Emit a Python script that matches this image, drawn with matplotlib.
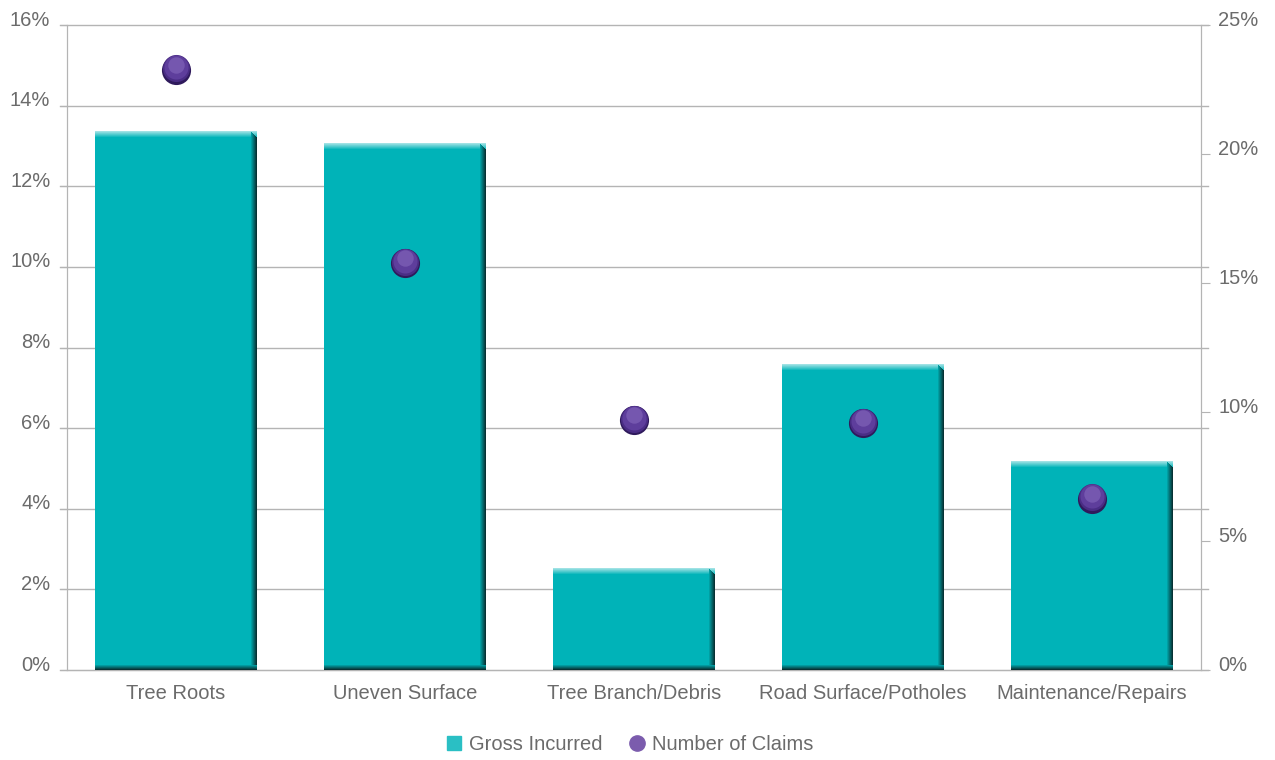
import matplotlib
matplotlib.use("Agg")
import matplotlib.pyplot as plt
import matplotlib.transforms as mtransforms
from matplotlib.patches import Rectangle
from matplotlib.colors import to_rgb

categories = ["Tree Roots", "Uneven Surface", "Tree Branch/Debris",
              "Road Surface/Potholes", "Maintenance/Repairs"]
gross_incurred = [13.37, 13.07, 2.53, 7.59, 5.19]    # left axis, %
number_of_claims = [23.26, 15.77, 9.69, 9.57, 6.63]  # right axis, %
left_ticks = [0, 2, 4, 6, 8, 10, 12, 14, 16]
right_ticks = [0, 5, 10, 15, 20, 25]

plt.rcParams['font.family'] = ['Liberation Sans', 'DejaVu Sans']
txt = '#6b6b6b'
grid = '#b4b4b4'
teal = '#00b3b8'

fig = plt.figure(figsize=(12.75, 7.6), dpi=100)
ax = fig.add_axes([0.0525, 0.1184, 0.8895, 0.8487])
ax2 = ax.twinx()

ax.set_xlim(-0.476, 4.476)
ax.set_ylim(0, 16)
ax2.set_ylim(0, 25)

x = list(range(len(categories)))
bars = ax.bar(x, gross_incurred, width=0.707, color=teal, zorder=3)


def mix(c1, c2, f):
    a, b = to_rgb(c1), to_rgb(c2)
    return tuple(a[i] + (b[i] - a[i]) * f for i in range(3))


# bevel: light top edge, dark right and bottom edges (pixel sizes -> data units)
px_x = 4.952 / 1134
px_y = 16 / 645
n = 6
for b in bars:
    bx, by, bw, bh = b.get_x(), b.get_y(), b.get_width(), b.get_height()
    for i in range(n):
        f = 1 - i / n
        ax.add_patch(Rectangle((bx, by + bh - (i + 1) * px_y), bw, px_y,
                               color=mix(teal, '#9fe2e4', f), zorder=4, lw=0))
    for i in range(n):
        f = 1 - i / n
        ax.add_patch(Rectangle((bx + bw - (i + 1) * px_x, by), px_x, bh - px_y * (n - i),
                               color=mix(teal, '#073234', f), zorder=5, lw=0))
    for i in range(5):
        f = 1 - i / 5
        ax.add_patch(Rectangle((bx, by + i * px_y), bw, px_y,
                               color=mix(teal, '#073234', f), zorder=5, lw=0))

ax.set_yticks(left_ticks)
ax.set_yticklabels([f"{t}%" for t in left_ticks])
ax.set_xticks(x)
ax.set_xticklabels(categories)

for t in left_ticks:
    ax.axhline(t, xmin=-0.006, xmax=1.006, color=grid, lw=1, zorder=1, clip_on=False)

ax2.set_yticks(right_ticks)
ax2.set_yticklabels([f"{t}%" for t in right_ticks])

# dots with simple shading
up = lambda d: ax2.transData + mtransforms.ScaledTranslation(0, d / 100, fig.dpi_scale_trans)
ax2.scatter(x, number_of_claims, s=440, color='#2f1a5c', zorder=6, lw=0)
ax2.scatter(x, number_of_claims, s=380, color='#4a2d85', zorder=7, lw=0, transform=up(1.5))
ax2.scatter(x, number_of_claims, s=300, color='#5e3e9c', zorder=8, lw=0, transform=up(2.5))
ax2.scatter(x, number_of_claims, s=140, color='#7f62b8', zorder=9, lw=0, alpha=0.7, transform=up(5))

for a in (ax, ax2):
    a.spines['top'].set_visible(False)
    for s in ('left', 'right', 'bottom'):
        a.spines[s].set_color(grid)
ax2.spines['bottom'].set_visible(False)

ax.tick_params(axis='y', length=5, color=grid, labelcolor=txt, labelsize=14.5, pad=7)
ax.tick_params(axis='x', length=0, labelcolor=txt, labelsize=14.5, pad=10)
ax2.tick_params(axis='y', length=6.5, color=grid, labelcolor=txt, labelsize=14.5, pad=6)

shift = mtransforms.ScaledTranslation(0, 7 / 100, fig.dpi_scale_trans)
for lab in ax.get_yticklabels() + ax2.get_yticklabels():
    lab.set_transform(lab.get_transform() + shift)

h1 = plt.Line2D([], [], marker='s', ls='', color='#2abfc4', markersize=10)
h2 = plt.Line2D([], [], marker='o', ls='', color='#7b5cad', markersize=11)
fig.legend([h1, h2], ["Gross Incurred", "Number of Claims"], loc='center',
           bbox_to_anchor=(0.4925, 0.02), ncol=2, frameon=False, fontsize=14.5,
           labelcolor=txt, handletextpad=0.15, columnspacing=1.1, handlelength=1.2)

fig.savefig("out.png", dpi=100)
